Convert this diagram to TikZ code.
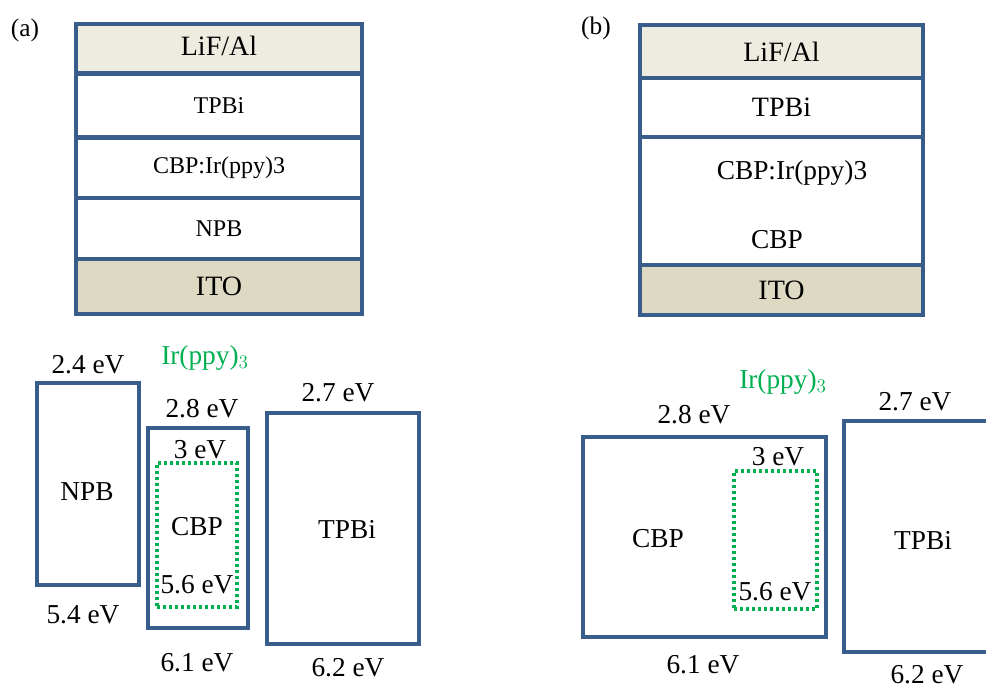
\documentclass[tikz,border=0pt]{standalone}
\usepackage{fontspec}
\setmainfont{Liberation Serif}
\usepackage{tikz}

\definecolor{edgeblue}{RGB}{56,93,138}
\definecolor{lifal}{RGB}{238,236,225}
\definecolor{itofill}{RGB}{221,217,195}
\definecolor{dopant}{RGB}{0,176,80}

\begin{document}
\begin{tikzpicture}[x=0.75pt,y=0.75pt,yscale=-1,
  layer/.style={draw=edgeblue,line width=2.7pt,inner sep=0pt,font=\fontsize{21}{25}\selectfont},
  thinlayer/.style={layer,font=\fontsize{18}{22}\selectfont},
  level/.style={draw=edgeblue,line width=2.7pt,inner sep=0pt},
  guest/.style={draw=dopant,line width=2.6pt,dash pattern=on 2.3pt off 2.2pt,inner sep=0pt},
  lbl/.style={inner sep=0pt,font=\fontsize{20.5}{24}\selectfont},
  greenlbl/.style={lbl,text=dopant},
  panel/.style={inner sep=0pt,font=\fontsize{19}{22}\selectfont}]
\path[use as bounding box] (0,0) rectangle (986,689);

%Panel (a): layer stack
\node[panel] (pa) at (25,30) {(a)};
\node[layer,fill=lifal,minimum width=214.5pt,minimum height=36.75pt,text height=1.08em,text depth=0pt] (lifA) at (219,48.5) {LiF/Al};
\node[thinlayer,minimum width=214.5pt,minimum height=48pt] (tpbiLA) at (219,106) {TPBi};
\node[thinlayer,minimum width=214.5pt,minimum height=45.75pt] (emlA) at (219,167.5) {CBP:Ir(ppy)3};
\node[thinlayer,minimum width=214.5pt,minimum height=45.75pt] (npbLA) at (219,228.5) {NPB};
\node[layer,fill=itofill,minimum width=214.5pt,minimum height=41.25pt] (itoA) at (219,286.5) {ITO};

%Panel (b): layer stack
\node[panel] (pb) at (596,28) {(b)};
\node[layer,fill=lifal,minimum width=212.25pt,minimum height=39.75pt] (lifB) at (781.5,51.5) {LiF/Al};
\node[layer,minimum width=212.25pt,minimum height=44.25pt] (tpbiLB) at (781.5,107.5) {TPBi};
\node[layer,minimum width=212.25pt,minimum height=96pt] (emlB) at (781.5,201) {};
\node[lbl] (emlBtop) at (792,173) {CBP:Ir(ppy)3};
\node[lbl] (emlBbot) at (777,240) {CBP};
\node[layer,fill=itofill,minimum width=212.25pt,minimum height=37.5pt] (itoB) at (781.5,290) {ITO};

%Energy levels (a)
\node[level,minimum width=76.5pt,minimum height=151.5pt] (npb) at (88,484) {};
\node[lbl] (npbT) at (87,492) {NPB};
\node[lbl] (npbL) at (88,365) {2.4 eV};
\node[lbl] (npbH) at (83,615) {5.4 eV};

\node[level,minimum width=75pt,minimum height=150pt] (cbpA) at (198,528) {};
\node[guest,minimum width=60pt,minimum height=108pt] (irA) at (197,535) {};
\node[greenlbl] (irAT) at (205,358) {Ir(ppy)$_3$};
\node[lbl] (cbpAL) at (202,409) {2.8 eV};
\node[lbl] (irAL) at (200,450) {3 eV};
\node[lbl] (cbpAT) at (197,527) {CBP};
\node[lbl] (irAH) at (197,585) {5.6 eV};
\node[lbl] (cbpAH) at (197,663) {6.1 eV};

\node[level,minimum width=114pt,minimum height=173.25pt] (tpbiA) at (343,528.5) {};
\node[lbl] (tpbiAT) at (347,529) {TPBi};
\node[lbl] (tpbiAL) at (338,393) {2.7 eV};
\node[lbl] (tpbiAH) at (348,668) {6.2 eV};

%Energy levels (b)
\node[level,minimum width=182.25pt,minimum height=150pt] (cbpB) at (704.5,537) {};
\node[guest,minimum width=62.25pt,minimum height=103.5pt] (irB) at (775.5,540) {};
\node[greenlbl] (irBT) at (783,382) {Ir(ppy)$_3$};
\node[lbl] (cbpBL) at (694,415) {2.8 eV};
\node[lbl] (irBL) at (778,457) {3 eV};
\node[lbl] (cbpBT) at (658,539) {CBP};
\node[lbl] (irBH) at (775,592) {5.6 eV};
\node[lbl] (cbpBH) at (703,665) {6.1 eV};

\node[level,minimum width=114pt,minimum height=173.25pt] (tpbiB) at (920,536.5) {};
\node[lbl] (tpbiBT) at (923,540) {TPBi};
\node[lbl] (tpbiBL) at (915,402) {2.7 eV};
\node[lbl] (tpbiBH) at (927,675) {6.2 eV};

\end{tikzpicture}
\end{document}
